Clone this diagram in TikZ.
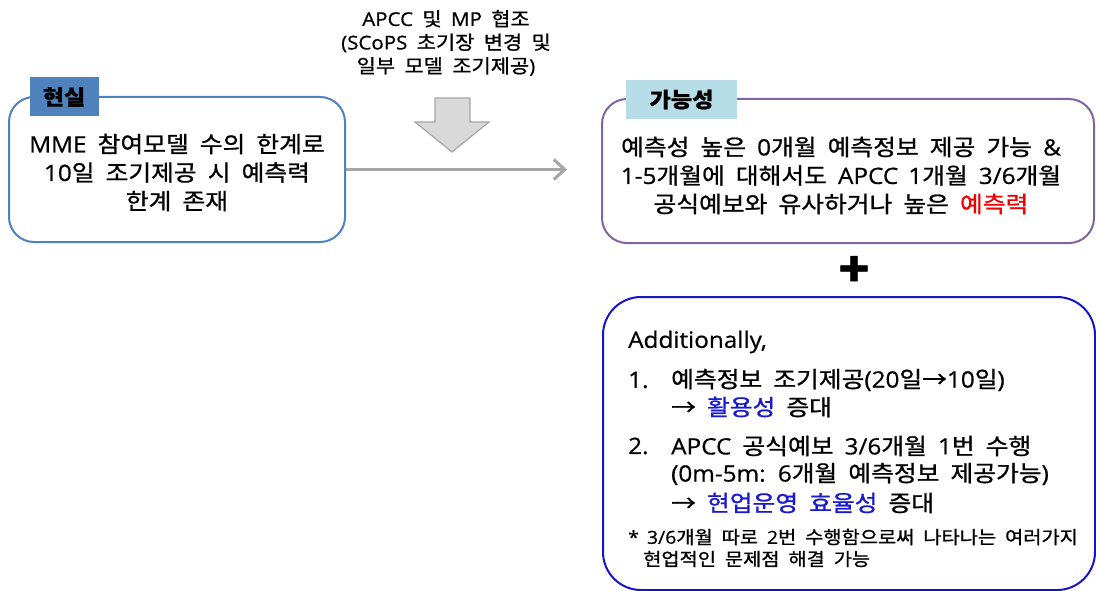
\documentclass[tikz,border=0pt]{standalone}
\usepackage{fontspec}
\setmainfont{Noto Sans CJK KR}[FakeStretch=1.1, WordSpace=2.0, FakeBold=1.0]
\newfontfamily\latfont{Open Sans}[FakeStretch=1.08, WordSpace=1.6, FakeBold=0.6]
\newcommand{\latn}[1]{{\latfont #1}}
\usetikzlibrary{arrows.meta}
\definecolor{realbord}{RGB}{79,129,189}
\definecolor{realtab}{RGB}{79,129,189}
\definecolor{possbord}{RGB}{128,100,162}
\definecolor{posstab}{RGB}{183,221,232}
\definecolor{addbord}{RGB}{20,20,200}
\definecolor{hiblue}{RGB}{25,25,210}
\definecolor{hired}{RGB}{240,0,0}
\definecolor{arrgray}{RGB}{166,166,166}
\definecolor{blockfill}{RGB}{217,217,217}
\tikzset{
  box/.style={draw, line width=2pt, fill=white, inner sep=0pt},
  tab/.style={inner sep=0pt, font=\fontsize{21}{24}\selectfont\bfseries},
  maintext/.style={inner sep=0pt, align=center, font=\fontsize{22.5}{28.5}\selectfont},
  toptext/.style={inner sep=0pt, align=center, font=\fontsize{19}{23.5}\selectfont},
  listtext/.style={inner sep=0pt, anchor=west, font=\fontsize{22.5}{25}\selectfont},
  notetext/.style={inner sep=0pt, anchor=west, font=\fontsize{18}{22}\selectfont},
}
\begin{document}
\begin{tikzpicture}[x=1pt,y=-1pt]
\useasboundingbox (0,0) rectangle (1096,591);
\fill[white] (0,0) rectangle (1096,591);

% left box
\node[box, draw=realbord, rounded corners=25pt, minimum width=336pt, minimum height=145pt] (real) at (177,169.5) {};
\node[tab, fill=realtab, minimum width=69pt, minimum height=39pt] (realtab) at (64,97) {현실};
\node[maintext] (realtxt) at (177,172.5) {\latn{MME} 참여모델 수의 한계로\\\latn{10}일 조기제공 시 예측력\\한계 존재};

% right top box
\node[box, draw=possbord, rounded corners=25pt, minimum width=492pt, minimum height=144pt] (poss) at (848,171) {};
\node[tab, fill=posstab, minimum width=111pt, minimum height=39pt] (posstab) at (681.5,99.5) {가능성};
\node[maintext] (posstxt) at (841,175.5) {예측성 높은 \latn{0}개월 예측정보 제공 가능 \latn{\&}\\\latn{1-5}개월에 대해서도 \latn{APCC 1}개월 \latn{3/6}개월\\공식예보와 유사하거나 높은 \textcolor{hired}{예측력}};

% connector
\draw[arrgray, line width=3pt, -{Straight Barb[length=11pt,width=20pt]}, shorten >=34pt] (real.east) -- (poss.west |- real.east);

% top text and block arrow
\node[toptext] (coop) at (446,43) {\latn{APCC} 및 \latn{MP} 협조\\\latn{(SCoPS} 초기장 변경 및\\일부 모델 조기제공\latn{)}};
\fill[blockfill, draw=arrgray, line width=1.2pt, line join=miter]
  (435,98) -- (470,98) -- (470,122) -- (489,122) -- (452,152) -- (415,122) -- (435,122) -- cycle;

% plus
\node[inner sep=0pt, font=\fontsize{46}{46}\selectfont\bfseries] (plus) at (854,271) {+};

% bottom box
\node[box, draw=addbord, rounded corners=38pt, minimum width=492pt, minimum height=293pt] (add) at (849,443.5) {};
\node[listtext] (addhd) at (628,342) {\latn{Additionally,}};
\node[listtext] (n1) at (628,380) {\latn{1.}};
\node[listtext] (l1a) at (671,380) {예측정보 조기제공\latn{(20}일→\latn{10}일\latn{)}};
\node[listtext] (l1b) at (671,407) {→ \textcolor{hiblue}{활용성} 증대};
\node[listtext] (n2) at (628,446) {\latn{2.}};
\node[listtext] (l2a) at (671,446) {\latn{APCC} 공식예보 \latn{3/6}개월 \latn{1}번 수행};
\node[listtext] (l2b) at (671,474) {\latn{(0m-5m: 6}개월 예측정보 제공가능\latn{)}};
\node[listtext] (l2c) at (671,503) {→ \textcolor{hiblue}{현업운영 효율성} 증대};
\node[notetext] (note1) at (628,537) {\latn{* 3/6}개월 따로 \latn{2}번 수행함으로써 나타나는 여러가지};
\node[notetext] (note2) at (643,559) {현업적인 문제점 해결 가능};
\end{tikzpicture}
\end{document}
